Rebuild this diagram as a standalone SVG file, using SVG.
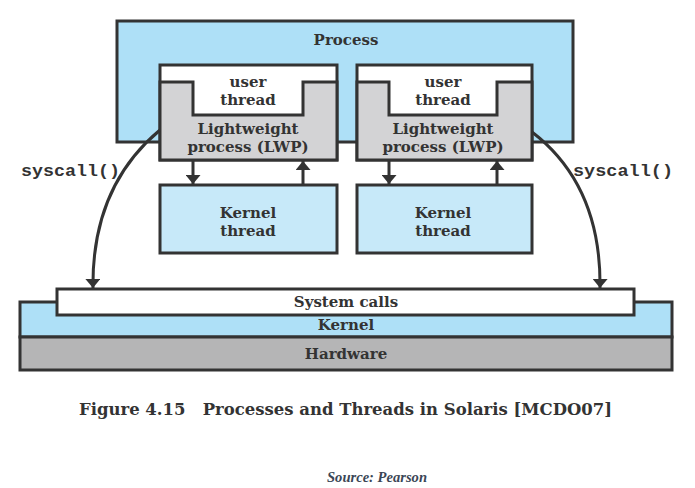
<svg xmlns="http://www.w3.org/2000/svg" width="695" height="488" viewBox="0 0 695 488">
<defs>
<style>
.box{stroke:#333;stroke-width:3}
.proc{fill:#aee0f7}
.kt{fill:#c7e9f9}
.lwp{fill:#d3d3d5}
.wh{fill:#fff}
.hw{fill:#b5b5b6}
.t{font-family:"DejaVu Serif","Liberation Serif",serif;font-weight:bold;font-size:15px;fill:#333;text-anchor:middle}
.m{font-family:"Liberation Mono","DejaVu Sans Mono",monospace;font-weight:bold;font-size:17px;fill:#333}
.ln{fill:none;stroke:#333;stroke-width:3}
</style>
<marker id="ah" viewBox="0 0 10 10" refX="10" refY="5" markerWidth="9" markerHeight="15" markerUnits="userSpaceOnUse" orient="auto" preserveAspectRatio="none">
<path d="M0,0 L10,5 L0,10 Z" fill="#333"/>
</marker>
</defs>
<rect width="695" height="488" fill="#fff"/>
<g id="process">
<rect class="box proc" x="117" y="21" width="456" height="121"/>
<text class="t" x="346" y="45">Process</text>
</g>
<g id="lwp1">
<rect class="box wh" x="160" y="65" width="177" height="95"/>
<path class="box lwp" d="M160,82 H193 V115 H303 V82 H337 V160 H160 Z"/>
<text class="t" x="248" y="87">user</text>
<text class="t" x="248" y="105">thread</text>
<text class="t" x="248" y="134">Lightweight</text>
<text class="t" x="248" y="152">process (LWP)</text>
</g>
<g id="lwp2">
<rect class="box wh" x="357" y="65" width="175" height="95"/>
<path class="box lwp" d="M357,82 H389 V115 H497 V82 H532 V160 H357 Z"/>
<text class="t" x="443" y="87">user</text>
<text class="t" x="443" y="105">thread</text>
<text class="t" x="443" y="134">Lightweight</text>
<text class="t" x="443" y="152">process (LWP)</text>
</g>
<g id="kthread1">
<rect class="box kt" x="160" y="185" width="177" height="68"/>
<text class="t" x="248" y="218">Kernel</text>
<text class="t" x="248" y="236">thread</text>
</g>
<g id="kthread2">
<rect class="box kt" x="357" y="185" width="175" height="68"/>
<text class="t" x="443" y="218">Kernel</text>
<text class="t" x="443" y="236">thread</text>
</g>
<g id="kernel">
<rect class="box proc" x="20" y="302" width="652" height="35"/>
<text class="t" x="346" y="330">Kernel</text>
</g>
<g id="hardware">
<rect class="box hw" x="20" y="337" width="652" height="33"/>
<text class="t" x="346" y="359">Hardware</text>
</g>
<g id="syscalls">
<rect class="box wh" x="57" y="289" width="577" height="26"/>
<text class="t" x="346" y="307">System calls</text>
</g>
<g id="connectors">
<path class="ln" d="M193,160 V184" marker-end="url(#ah)"/>
<path class="ln" d="M303,185 V161" marker-end="url(#ah)"/>
<path class="ln" d="M389,160 V184" marker-end="url(#ah)"/>
<path class="ln" d="M497,185 V161" marker-end="url(#ah)"/>
<path class="ln" d="M160,130 C118,165 92,215 93,288" marker-end="url(#ah)"/>
<path class="ln" d="M532,132 C575,165 601,215 600,288" marker-end="url(#ah)"/>
</g>
<text class="m" x="21" y="176" textLength="99" lengthAdjust="spacingAndGlyphs">syscall()</text>
<text class="m" x="573" y="176" textLength="100" lengthAdjust="spacingAndGlyphs">syscall()</text>
<text x="79" y="415" font-family="DejaVu Serif, Liberation Serif, serif" font-weight="bold" font-size="17" fill="#333" textLength="533" lengthAdjust="spacingAndGlyphs" xml:space="preserve">Figure 4.15   Processes and Threads in Solaris [MCDO07]</text>
<text x="327" y="482" font-family="Liberation Serif, serif" font-weight="bold" font-style="italic" font-size="14" fill="#3b4656" textLength="100" lengthAdjust="spacingAndGlyphs">Source: Pearson</text>
</svg>
